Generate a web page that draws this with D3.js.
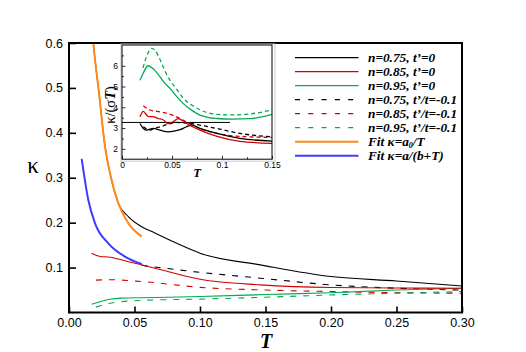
<!DOCTYPE html>
<html><head><meta charset="utf-8">
<script src="https://cdn.jsdelivr.net/npm/d3@7"></script>
<style>body{margin:0;background:#fff}svg{display:block}</style>
</head><body>
<svg id="c" width="526" height="352"></svg>
<script>
// ---------- DATA (main panel: [T, kappa]) ----------
const xTicks = [0, 0.05, 0.10, 0.15, 0.20, 0.25, 0.30];
const yTicks = [0.1, 0.2, 0.3, 0.4, 0.5, 0.6];
const n075_t0 = [[0.0150,0.75],[0.0186,0.60],[0.0229,0.489],[0.0275,0.37],[0.0313,0.31],[0.0376,0.2435],[0.0453,0.2137],[0.0555,0.191],[0.0656,0.177],[0.0822,0.154],[0.1,0.132],[0.146,0.106],[0.2,0.080],[0.25,0.070],[0.3,0.059]];
const n085_t0 = [[0.0173,0.132],[0.0237,0.1246],[0.030,0.1235],[0.0376,0.119],[0.0453,0.113],[0.0555,0.106],[0.0656,0.0987],[0.1,0.074],[0.146,0.0615],[0.2,0.0555],[0.25,0.0545],[0.3,0.054]];
const n095_t0 = [[0.0173,0.0185],[0.025,0.025],[0.0313,0.0296],[0.04,0.032],[0.0555,0.033],[0.1,0.0355],[0.15,0.040],[0.2,0.044],[0.25,0.050],[0.3,0.054]];
const n075_tm = [[0.0555,0.105],[0.095,0.091],[0.146,0.0764],[0.2,0.0615],[0.25,0.054],[0.3,0.050]];
const n085_tm = [[0.0206,0.072],[0.03,0.073],[0.0555,0.069],[0.1,0.056],[0.15,0.050],[0.2,0.0466],[0.25,0.044],[0.3,0.043]];
const n095_tm = [[0.0206,0.012],[0.03,0.020],[0.04,0.024],[0.0555,0.027],[0.1,0.0298],[0.15,0.034],[0.2,0.039],[0.25,0.043],[0.3,0.0466]];
const fitA0 = [[0.0150,0.75],[0.0186,0.60],[0.0229,0.489],[0.0275,0.37],[0.0313,0.31],[0.0376,0.2435],[0.0453,0.199],[0.0555,0.169]];
const fitAB = [[0.0097,0.342],[0.0147,0.251],[0.0198,0.199],[0.030,0.154],[0.0427,0.1245],[0.0555,0.108]];
const legendLabels = ["n=0.75, t\u2019=0","n=0.85, t\u2019=0","n=0.95, t\u2019=0","n=0.75, t\u2019/t=-0.1","n=0.85, t\u2019/t=-0.1","n=0.95, t\u2019/t=-0.1","Fit \u03ba=a|0|/T","Fit \u03ba=a/(b+T)"];

// ---------- DATA (inset: [T, kappa/(sigma T)]) ----------
const insXTicks = [0, 0.05, 0.1, 0.15];
const insYTicks = [2, 3, 4, 5, 6];
const ins_n075_t0 = [[0.018,3.22],[0.021,3.0],[0.024,2.9],[0.028,2.95],[0.031,2.98],[0.038,2.9],[0.046,2.82],[0.052,2.85],[0.058,2.92],[0.064,3.05],[0.07,3.14],[0.078,2.98],[0.095,2.74],[0.118,2.5],[0.15,2.37]];
const ins_n085_t0 = [[0.018,3.54],[0.0213,3.8],[0.026,3.56],[0.031,3.55],[0.036,3.46],[0.041,3.4],[0.046,3.22],[0.051,3.3],[0.056,3.45],[0.061,3.35],[0.066,3.18],[0.078,2.9],[0.095,2.6],[0.118,2.36],[0.15,2.26]];
const ins_n095_t0 = [[0.018,5.3],[0.0213,5.65],[0.026,6.0],[0.03,5.9],[0.036,5.6],[0.042,5.2],[0.048,4.91],[0.055,4.5],[0.061,4.19],[0.07,3.85],[0.078,3.62],[0.087,3.5],[0.095,3.46],[0.11,3.43],[0.128,3.45],[0.15,3.66]];
const ins_n075_tm = [[0.0213,3.06],[0.028,2.9],[0.033,3.0],[0.038,3.06],[0.046,3.18],[0.055,3.27],[0.062,3.25],[0.07,3.22],[0.08,3.12],[0.095,2.98],[0.118,2.74],[0.15,2.58]];
const ins_n085_tm = [[0.0213,4.07],[0.028,3.87],[0.035,3.8],[0.045,3.71],[0.052,3.6],[0.058,3.46],[0.068,3.2],[0.078,2.98],[0.095,2.74],[0.118,2.6],[0.15,2.55]];
const ins_n095_tm = [[0.021,5.9],[0.025,6.5],[0.0297,6.84],[0.033,6.75],[0.038,6.3],[0.043,5.75],[0.048,5.3],[0.055,4.85],[0.061,4.45],[0.07,4.1],[0.078,3.88],[0.087,3.72],[0.095,3.66],[0.111,3.63],[0.128,3.68],[0.15,3.87]];
const insRefLine = [[0,3.27],[0.108,3.27]];

// ---------- STYLE ----------
const BLACK="#000", RED="#d40000", GREEN="#00aa55", ORANGE="#ff8a1a", BLUE="#3c3cff";
const sans = "'Liberation Sans', Arial, Helvetica, sans-serif";
const serif = "'Liberation Serif', 'Times New Roman', serif";

const svg = d3.select("#c");
const L=69, R=462, T0=43, B=312.5;
const x = d3.scaleLinear().domain([0,0.3]).range([L,R]);
const y = d3.scaleLinear().domain([0,0.6]).range([B,T0]);

const defs = svg.append("defs");
defs.append("clipPath").attr("id","clipMain")
  .append("rect").attr("x",L).attr("y",T0).attr("width",R-L).attr("height",B-T0);

const line = d3.line().x(d=>x(d[0])).y(d=>y(d[1])).curve(d3.curveMonotoneX);
const series = [
  {d:n085_tm, c:RED, dash:"6,7", w:1.1},
  {d:n095_tm, c:GREEN, dash:"6,7", w:1.1},
  {d:n075_tm, c:BLACK, dash:"6,7", w:1.1},
  {d:n095_t0, c:GREEN, dash:null, w:1.1},
  {d:n085_t0, c:RED, dash:null, w:1.1},
  {d:n075_t0, c:BLACK, dash:null, w:1.1},
  {d:fitA0, c:ORANGE, dash:null, w:2},
  {d:fitAB, c:BLUE, dash:null, w:2},
];
const gm = svg.append("g").attr("clip-path","url(#clipMain)");
series.forEach(s=>{
  gm.append("path").attr("d",line(s.d)).attr("fill","none").attr("stroke",s.c)
    .attr("stroke-width",s.w).attr("stroke-dasharray",s.dash);
});

// axes
const xa = svg.append("g").attr("transform",`translate(0,${B})`)
  .call(d3.axisBottom(x).tickValues(xTicks).tickFormat(d3.format(".2f")).tickSizeInner(-6).tickSizeOuter(0).tickPadding(6));
const ya = svg.append("g").attr("transform",`translate(${L},0)`)
  .call(d3.axisLeft(y).tickValues(yTicks).tickFormat(d3.format(".1f")).tickSizeInner(-7).tickSizeOuter(0).tickPadding(6));
[xa,ya].forEach(a=>{
  a.select(".domain").remove();
  a.selectAll(".tick line").attr("stroke","#000").attr("stroke-width",1.6);
  a.selectAll(".tick text").attr("font-family",sans).attr("font-size",12.5).attr("fill","#000");
});
svg.append("rect").attr("x",L).attr("y",T0).attr("width",R-L).attr("height",B-T0)
  .attr("fill","none").attr("stroke","#000").attr("stroke-width",2);

svg.append("text").attr("x",266).attr("y",347.5).attr("text-anchor","middle")
  .attr("font-family",serif).attr("font-style","italic").attr("font-weight","bold").attr("font-size",20).text("T");
svg.append("text").attr("x",33).attr("y",173).attr("text-anchor","middle")
  .attr("font-family",serif).attr("font-size",23).text("\u03ba");

// legend
const legItems = [
  {c:BLACK,dash:null,w:1.2},{c:RED,dash:null,w:1.2},{c:GREEN,dash:null,w:1.2},
  {c:BLACK,dash:"5,8.3",w:1.2},{c:RED,dash:"5,8.3",w:1.2},{c:GREEN,dash:"5,8.3",w:1.2},
  {c:ORANGE,dash:null,w:2},{c:BLUE,dash:null,w:2}];
legItems.forEach((it,i)=>{
  const yy = 57.7 + i*14;
  svg.append("line").attr("x1",295).attr("x2",358.5).attr("y1",yy).attr("y2",yy)
    .attr("stroke",it.c).attr("stroke-width",it.w).attr("stroke-dasharray",it.dash);
  const t = svg.append("text").attr("x",368).attr("y",yy+4.5)
    .attr("font-family",serif).attr("font-style","italic").attr("font-weight","bold").attr("font-size",13.3);
  const parts = legendLabels[i].split("|");
  if(parts.length===3){
    t.append("tspan").text(parts[0]);
    t.append("tspan").attr("dy",1.8).attr("font-size",8).text(parts[1]);
    t.append("tspan").attr("dy",-1.8).text(parts[2]);
  } else t.text(legendLabels[i]);
});

// ---------- INSET ----------
const iL=122, iR=272, iT=45, iB=159.2;
const xi = d3.scaleLinear().domain([0,0.15]).range([iL,iR]);
const yi = d3.scaleLinear().domain([1.5,7]).range([iB,iT]);
svg.append("rect").attr("x",iL-1).attr("y",iT-1).attr("width",iR-iL+4).attr("height",iB-iT+3)
  .attr("fill","#fff").attr("stroke","#c8c8c8").attr("stroke-width",1);
defs.append("clipPath").attr("id","clipIns")
  .append("rect").attr("x",iL).attr("y",iT).attr("width",iR-iL).attr("height",iB-iT);
const li = d3.line().x(d=>xi(d[0])).y(d=>yi(d[1])).curve(d3.curveMonotoneX);
const gi = svg.append("g").attr("clip-path","url(#clipIns)");
gi.append("path").attr("d",d3.line().x(d=>xi(d[0])).y(d=>yi(d[1]))(insRefLine))
  .attr("stroke","#000").attr("stroke-width",1).attr("fill","none");
[
  {d:ins_n095_t0,c:GREEN,dash:null},{d:ins_n095_tm,c:GREEN,dash:"4,3"},
  {d:ins_n085_tm,c:RED,dash:"4,3"},{d:ins_n075_tm,c:BLACK,dash:"4,3"},
  {d:ins_n075_t0,c:BLACK,dash:null},{d:ins_n085_t0,c:RED,dash:null}
].forEach(s=>{
  gi.append("path").attr("d",li(s.d)).attr("fill","none").attr("stroke",s.c)
    .attr("stroke-width",1.3).attr("stroke-dasharray",s.dash);
});
const fmtIns = d=> d===0 ? "0" : String(d);
const xia = svg.append("g").attr("transform",`translate(0,${iB})`)
  .call(d3.axisBottom(xi).tickValues(insXTicks).tickFormat(fmtIns).tickSizeInner(-3.5).tickSizeOuter(0).tickPadding(3));
const xim = svg.append("g").attr("transform",`translate(0,${iB})`)
  .call(d3.axisBottom(xi).tickValues([0.025,0.075,0.125]).tickFormat("").tickSizeInner(-2).tickSizeOuter(0));
const yia = svg.append("g").attr("transform",`translate(${iL},0)`)
  .call(d3.axisLeft(yi).tickValues(insYTicks).tickFormat(fmtIns).tickSizeInner(-3.5).tickSizeOuter(0).tickPadding(4));
const yim = svg.append("g").attr("transform",`translate(${iL},0)`)
  .call(d3.axisLeft(yi).tickValues([2.5,3.5,4.5,5.5,6.5]).tickFormat("").tickSizeInner(-2).tickSizeOuter(0));
[xia,xim,yia,yim].forEach(a=>{
  a.select(".domain").remove();
  a.selectAll(".tick line").attr("stroke","#000").attr("stroke-width",0.8);
  a.selectAll(".tick text").attr("font-family",sans).attr("font-size",8.5).attr("fill","#000");
});
svg.append("rect").attr("x",iL).attr("y",iT).attr("width",iR-iL).attr("height",iB-iT)
  .attr("fill","none").attr("stroke","#000").attr("stroke-width",1);
svg.append("text").attr("x",197).attr("y",177).attr("text-anchor","middle")
  .attr("font-family",serif).attr("font-style","italic").attr("font-weight","bold").attr("font-size",12.5).text("T");
const yl = svg.append("text").attr("transform","translate(115,105) rotate(-90)").attr("text-anchor","middle")
  .attr("font-family",serif).attr("font-size",14.5);
yl.append("tspan").text("\u03ba/(\u03c3");
yl.append("tspan").attr("font-style","italic").attr("font-weight","bold").text("T");
yl.append("tspan").text(")");
</script>
</body></html>
